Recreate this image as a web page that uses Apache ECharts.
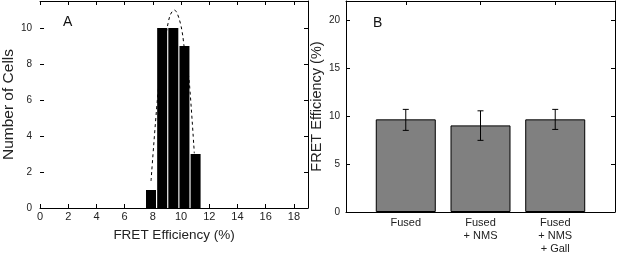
<!DOCTYPE html>
<html>
<head>
<meta charset="utf-8">
<script src="https://cdn.jsdelivr.net/npm/echarts@6/dist/echarts.min.js"></script>
<style>
  html, body { margin: 0; padding: 0; background: #fff; }
  #chart { width: 617px; height: 257px; }
</style>
</head>
<body>
<div id="chart"></div>
<script>
// panel A: histogram of FRET efficiency
var histX = [7.87, 8.66, 9.45, 10.24, 11.03];
var histCounts = [1, 10, 10, 9, 3];
// dashed fit curve
var fitX = [7.87, 8.33, 8.68, 9.03, 9.19, 9.36, 9.54, 9.73, 9.89, 10.01, 10.13, 10.2, 10.39, 10.59, 10.94];
var fitY = [1.5, 6.1, 8.5, 10.07, 10.63, 10.9, 11.0, 10.8, 10.44, 10.07, 9.52, 9.06, 8.1, 6.93, 3.04];

// panel B: mean FRET efficiency per condition
var groupNames = ['Fused', 'Fused\n+ NMS', 'Fused\n+ NMS\n+ Gall'];
var groupPos = [0.8, 1.8, 2.8];
var fretMean = [9.66, 9.03, 9.66];
var fretLow = [8.51, 7.47, 8.61];
var fretHigh = [10.70, 10.55, 10.70];

var font = 'Liberation Sans, Arial, sans-serif';
var black = '#000';

var mychart = echarts.init(document.getElementById('chart'));

function frameAxis(extra) {
	var a = {
		axisLine: { show: true, onZero: false, lineStyle: { color: black, width: 1 } },
		axisTick: { show: true, inside: true, length: 4, lineStyle: { color: black } },
		axisLabel: { show: false },
		splitLine: { show: false }
	};
	for (var k in extra) a[k] = extra[k];
	return a;
}

var histData = [];
for (var i = 0; i < histX.length; i++) histData.push([histX[i], histCounts[i]]);
var fitData = [];
for (var i = 0; i < fitX.length; i++) fitData.push([fitX[i], fitY[i]]);
var meanData = [];
var errData = [];
for (var i = 0; i < groupPos.length; i++) {
	meanData.push([groupPos[i], fretMean[i]]);
	errData.push([groupPos[i], fretLow[i], fretHigh[i]]);
}

var option = {
	animation: false,
	textStyle: { fontFamily: font },
	grid: [
		{ left: 37, right: 309, top: 1, bottom: 49 },
		{ left: 346, right: 2, top: 1, bottom: 45 }
	],
	xAxis: [
		frameAxis({
			type: 'value', gridIndex: 0, position: 'bottom', min: 0, max: 19, interval: 2,
			axisLabel: { show: true, showMaxLabel: false, color: '#222', fontSize: 11, margin: 3, fontFamily: font },
			name: 'FRET Efficiency (%)', nameLocation: 'middle', nameGap: 20,
			nameTextStyle: { color: '#222', fontSize: 13.5, fontFamily: font, verticalAlign: 'top' }
		}),
		frameAxis({ type: 'value', gridIndex: 0, position: 'top', min: 0, max: 19, interval: 2 }),
		frameAxis({
			type: 'value', gridIndex: 1, position: 'bottom', min: 0, max: 3.6,
			axisTick: { show: true, inside: true, length: 4, customValues: groupPos, lineStyle: { color: black } },
			axisLabel: {
				show: true, customValues: groupPos, color: '#222', fontSize: 11, lineHeight: 13.3, margin: 4,
				fontFamily: font, align: 'center',
				formatter: function(v) {
					var idx = groupPos.indexOf(Math.round(v * 10) / 10);
					return idx >= 0 ? groupNames[idx] : '';
				}
			}
		}),
		frameAxis({
			type: 'value', gridIndex: 1, position: 'top', min: 0, max: 3.6,
			axisTick: { show: true, inside: true, length: 4, customValues: groupPos, lineStyle: { color: black } }
		})
	],
	yAxis: [
		frameAxis({
			type: 'value', gridIndex: 0, position: 'left', min: 0, max: 11.5, interval: 2,
			axisLine: { show: false, onZero: false },
			axisLabel: { show: true, showMaxLabel: false, color: '#222', fontSize: 10, margin: 8, fontFamily: font },
			name: 'Number of Cells', nameLocation: 'middle', nameGap: 22,
			nameTextStyle: { color: '#222', fontSize: 15.5, fontFamily: font }
		}),
		frameAxis({ type: 'value', gridIndex: 0, position: 'right', min: 0, max: 11.5, interval: 2 }),
		frameAxis({
			type: 'value', gridIndex: 1, position: 'left', min: 0, max: 22, interval: 5,
			axisLabel: { show: true, showMaxLabel: false, color: '#222', fontSize: 10, margin: 6, fontFamily: font },
			name: 'FRET Efficiency (%)', nameLocation: 'middle', nameGap: 21,
			nameTextStyle: { color: '#222', fontSize: 14.5, fontFamily: font }
		}),
		frameAxis({ type: 'value', gridIndex: 1, position: 'right', min: 0, max: 22, interval: 5 })
	],
	graphic: [
		{ type: 'text', left: 63, top: 15, style: { text: 'A', fontSize: 14, fontFamily: font, fill: '#111' } },
		{ type: 'text', left: 373, top: 16, style: { text: 'B', fontSize: 14, fontFamily: font, fill: '#111' } }
	],
	series: [
		{
			type: 'bar', xAxisIndex: 0, yAxisIndex: 0, data: histData, barWidth: 10,
			itemStyle: { color: black }
		},
		{
			type: 'line', xAxisIndex: 0, yAxisIndex: 0, data: fitData, smooth: 0.3, showSymbol: false,
			lineStyle: { color: black, width: 1, type: [3, 3] }, z: 3
		},
		{
			type: 'bar', xAxisIndex: 2, yAxisIndex: 2, data: meanData, barWidth: 60,
			itemStyle: { color: '#808080', borderColor: black, borderWidth: 1 }
		},
		{
			type: 'custom', xAxisIndex: 2, yAxisIndex: 2, data: errData, z: 5,
			renderItem: function(params, api) {
				var lo = api.coord([api.value(0), api.value(1)]);
				var hi = api.coord([api.value(0), api.value(2)]);
				var cap = 3;
				var st = { stroke: black, lineWidth: 1 };
				return {
					type: 'group',
					children: [
						{ type: 'line', shape: { x1: hi[0], y1: hi[1], x2: lo[0], y2: lo[1] }, style: st },
						{ type: 'line', shape: { x1: hi[0] - cap, y1: hi[1], x2: hi[0] + cap, y2: hi[1] }, style: st },
						{ type: 'line', shape: { x1: lo[0] - cap, y1: lo[1], x2: lo[0] + cap, y2: lo[1] }, style: st }
					]
				};
			}
		}
	]
};

mychart.setOption(option);
</script>
</body>
</html>
